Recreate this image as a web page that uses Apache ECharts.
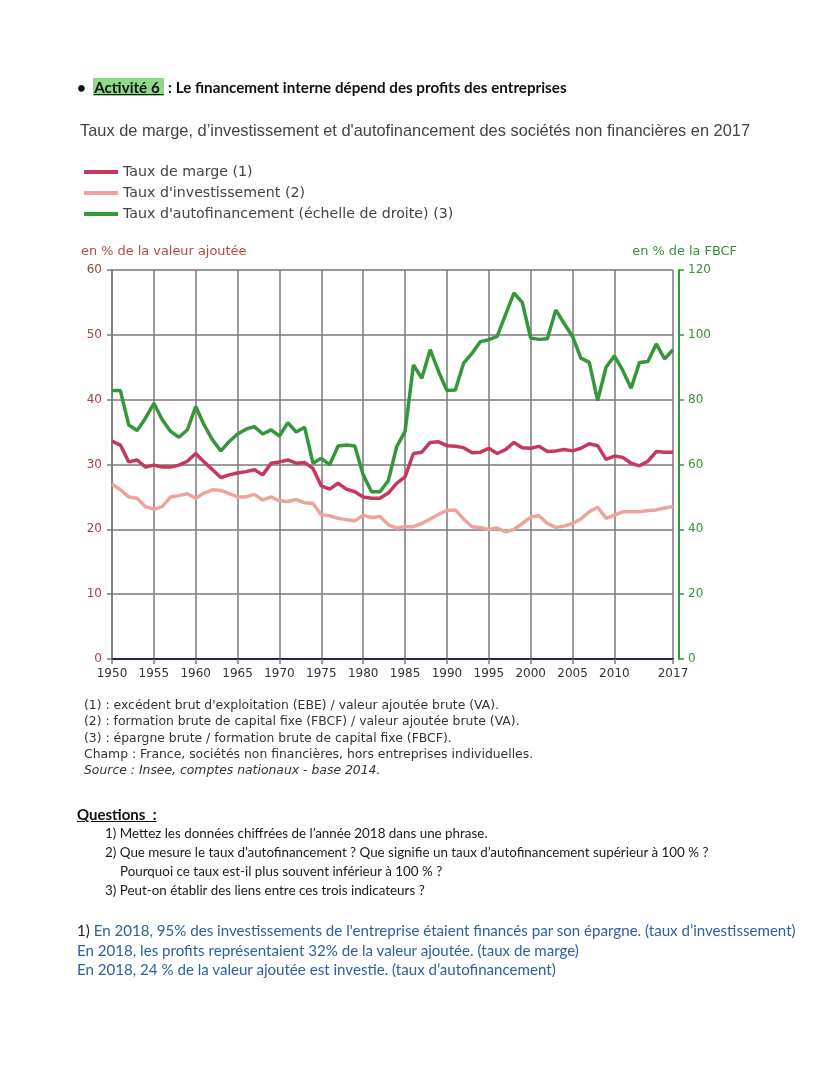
<!DOCTYPE html>
<html>
<head>
<meta charset="utf-8">
<script src="https://cdn.jsdelivr.net/npm/echarts@6/dist/echarts.min.js"></script>
<style>
  html, body { margin: 0; padding: 0; background: #ffffff; }
  #page { position: relative; width: 828px; height: 1071px; overflow: hidden; }
  #chart { position: absolute; left: 0; top: 0; width: 828px; height: 1071px; }
  .doc { position: absolute; font-family: Lato, "Open Sans", sans-serif; white-space: nowrap; }
  .hdr { left: 77px; top: 78px; font-size: 15.2px; font-weight: bold; color: #111; }
  .hl { background: #8fd98a; text-decoration: underline; padding: 0 1px; }
  .qt { left: 77px; top: 805px; font-size: 15px; font-weight: bold; color: #111; text-decoration: underline; }
  .q { font-size: 13.4px; color: #1a1a1a; }
  .a { left: 77px; font-size: 15.1px; color: #2e5fa3; }
  .a b { font-weight: normal; color: #222; }
</style>
</head>
<body>
<div id="page">
  <div id="chart"></div>
  <div class="doc hdr">•&nbsp;&nbsp;<span class="hl">Activité 6 </span>&nbsp;: Le financement interne dépend des profits des entreprises</div>
  <div class="doc qt">Questions &nbsp;:</div>
  <div class="doc q" style="left:105px; top:825px;">1) Mettez les données chiffrées de l’année 2018 dans une phrase.</div>
  <div class="doc q" style="left:105px; top:844px;">2) Que mesure le taux d’autofinancement ? Que signifie un taux d’autofinancement supérieur à 100 % ?</div>
  <div class="doc q" style="left:120px; top:863px;">Pourquoi ce taux est-il plus souvent inférieur à 100 % ?</div>
  <div class="doc q" style="left:105px; top:882px;">3) Peut-on établir des liens entre ces trois indicateurs ?</div>
  <div class="doc a" style="top:921px;"><b>1)</b> En 2018, 95% des investissements de l'entreprise étaient financés par son épargne. (taux d’investissement)</div>
  <div class="doc a" style="top:941px;">En 2018, les profits représentaient 32% de la valeur ajoutée. (taux de marge)</div>
  <div class="doc a" style="top:960px;">En 2018, 24 % de la valeur ajoutée est investie. (taux d’autofinancement)</div>
</div>
<script>
// ---- Data ----
var years = [];
for (var y = 1950; y <= 2017; y++) { years.push(String(y)); }

var tauxMarge = [
  33.6, 33.0, 30.4, 30.7, 29.6, 29.9, 29.6, 29.6, 29.9, 30.5,
  31.7, 30.4, 29.2, 28.0, 28.4, 28.7, 28.9, 29.2, 28.4, 30.2,
  30.4, 30.7, 30.2, 30.3, 29.4, 26.7, 26.2, 27.1, 26.2, 25.8,
  25.0, 24.8, 24.8, 25.6, 27.1, 28.1, 31.7, 31.9, 33.4, 33.5,
  32.9, 32.8, 32.6, 31.8, 31.9, 32.5, 31.7, 32.3, 33.4, 32.6,
  32.5, 32.8, 32.0, 32.1, 32.3, 32.1, 32.5, 33.2, 32.9, 30.8,
  31.3, 31.1, 30.2, 29.8, 30.5, 32.0, 31.9, 31.9
];

var tauxInvestissement = [
  27.0, 26.1, 25.0, 24.8, 23.5, 23.1, 23.5, 25.0, 25.2, 25.5,
  24.8, 25.6, 26.1, 26.0, 25.5, 25.0, 25.0, 25.4, 24.5, 25.0,
  24.4, 24.3, 24.6, 24.1, 24.0, 22.2, 22.1, 21.7, 21.5, 21.3,
  22.2, 21.8, 22.0, 20.7, 20.2, 20.4, 20.4, 20.9, 21.6, 22.3,
  22.9, 23.0, 21.6, 20.4, 20.3, 20.0, 20.2, 19.6, 20.0, 20.9,
  21.9, 22.1, 20.9, 20.3, 20.5, 20.9, 21.6, 22.7, 23.4, 21.7,
  22.2, 22.7, 22.7, 22.7, 22.9, 23.0, 23.3, 23.5
];

var tauxAutofinancement = [
  82.8, 82.8, 72.2, 70.5, 74.3, 78.9, 73.8, 70.2, 68.4, 70.7,
  77.9, 72.2, 67.6, 64.2, 67.1, 69.4, 70.9, 71.7, 69.4, 70.7,
  68.8, 72.9, 70.0, 71.5, 60.4, 61.9, 59.9, 65.7, 66.0, 65.7,
  56.8, 51.6, 51.6, 55.0, 65.5, 70.2, 90.7, 86.6, 95.4, 88.7,
  82.8, 83.0, 91.3, 94.3, 97.9, 98.5, 99.5, 106.2, 112.9, 110.0,
  99.0, 98.6, 98.8, 107.7, 103.5, 99.5, 92.8, 91.5, 79.7, 90.0,
  93.5, 89.0, 83.5, 91.5, 91.8, 97.2, 92.6, 95.4
];

var seriesNames = [
  'Taux de marge (1)',
  "Taux d'investissement (2)",
  "Taux d'autofinancement (échelle de droite) (3)"
];

var chartTitle = "Taux de marge, d’investissement et d'autofinancement des sociétés non financières en 2017";
var leftAxisName = 'en % de la valeur ajoutée';
var rightAxisName = 'en % de la FBCF';
var notes = [
  "(1) : excédent brut d'exploitation (EBE) / valeur ajoutée brute (VA).",
  "(2) : formation brute de capital fixe (FBCF) / valeur ajoutée brute (VA).",
  "(3) : épargne brute / formation brute de capital fixe (FBCF).",
  "Champ : France, sociétés non financières, hors entreprises individuelles.",
  "Source : Insee, comptes nationaux - base 2014."
];

// ---- Styles ----
var RED = '#c8375d';
var PINK = '#eea39e';
var GREEN = '#35963a';
var GRID = '#7a7a7a';
var LEFTLAB = '#a04440';
var RIGHTLAB = '#3a8f3a';
var FONT = '"DejaVu Sans", Verdana, sans-serif';

function yearShown(idx, val) {
  var v = parseInt(val, 10);
  return (v % 5 === 0 && v <= 2010) || v === 2017;
}

var chart = echarts.init(document.getElementById('chart'), null, { renderer: 'canvas' });

var noteGraphics = notes.map(function (t, i) {
  return {
    type: 'text', x: 84, y: 706 + i * 16.2,
    style: {
      text: t, fill: '#333',
      font: (i === 4 ? 'italic ' : '') + '12.4px ' + FONT,
      verticalAlign: 'middle'
    }
  };
});

chart.setOption({
  animation: false,
  backgroundColor: 'transparent',
  textStyle: { fontFamily: FONT },
  grid: { left: 112, right: 155, top: 270, bottom: 412, containLabel: false },
  legend: {
    orient: 'vertical', left: 84, top: 165, padding: 0,
    icon: 'rect', itemWidth: 34, itemHeight: 4, itemGap: 7,
    textStyle: { fontFamily: FONT, fontSize: 14.2, color: '#444' },
    data: seriesNames
  },
  xAxis: {
    type: 'category', data: years, boundaryGap: false,
    axisLine: { show: true, lineStyle: { color: '#23235e', width: 2 } },
    axisTick: { show: true, interval: yearShown, length: 5, lineStyle: { color: GRID, width: 1.5 } },
    axisLabel: { interval: yearShown, color: '#333', fontSize: 12, fontFamily: FONT, margin: 9 },
    splitLine: { show: true, interval: yearShown, lineStyle: { color: GRID, width: 1.5 } }
  },
  yAxis: [
    {
      type: 'value', min: 0, max: 60, interval: 10, position: 'left',
      axisLine: { show: true, lineStyle: { color: GRID, width: 1.5 } },
      axisTick: { show: true, length: 5, lineStyle: { color: GRID, width: 1.5 } },
      axisLabel: { color: LEFTLAB, fontSize: 12, fontFamily: FONT, margin: 10 },
      splitLine: { show: true, lineStyle: { color: GRID, width: 1.5 } }
    },
    {
      type: 'value', min: 0, max: 120, interval: 20, position: 'right', offset: 6,
      axisLine: { show: true, lineStyle: { color: GREEN, width: 2 } },
      axisTick: { show: true, length: 5, lineStyle: { color: GREEN, width: 1.5 } },
      axisLabel: { color: RIGHTLAB, fontSize: 12, fontFamily: FONT, margin: 9 },
      splitLine: { show: false }
    }
  ],
  series: [
    {
      name: seriesNames[0], type: 'line', data: tauxMarge, yAxisIndex: 0,
      showSymbol: false, symbol: 'none', color: RED,
      lineStyle: { color: RED, width: 3.5 }, z: 3
    },
    {
      name: seriesNames[1], type: 'line', data: tauxInvestissement, yAxisIndex: 0,
      showSymbol: false, symbol: 'none', color: PINK,
      lineStyle: { color: PINK, width: 3.5 }, z: 3
    },
    {
      name: seriesNames[2], type: 'line', data: tauxAutofinancement, yAxisIndex: 1,
      showSymbol: false, symbol: 'none', color: GREEN,
      lineStyle: { color: GREEN, width: 3.5 }, z: 4
    }
  ],
  graphic: [
    {
      type: 'text', x: 80, y: 131,
      style: { text: chartTitle, fill: '#444', font: '16.4px "Liberation Sans", Arial, sans-serif', verticalAlign: 'middle' }
    },
    {
      type: 'text', x: 81, y: 252,
      style: { text: leftAxisName, fill: '#b34a44', font: '12.9px ' + FONT, verticalAlign: 'middle' }
    },
    {
      type: 'text', x: 737, y: 252,
      style: { text: rightAxisName, fill: '#3a8f3a', font: '12.9px ' + FONT, verticalAlign: 'middle', align: 'right' }
    }
  ].concat(noteGraphics)
});
</script>
</body>
</html>
